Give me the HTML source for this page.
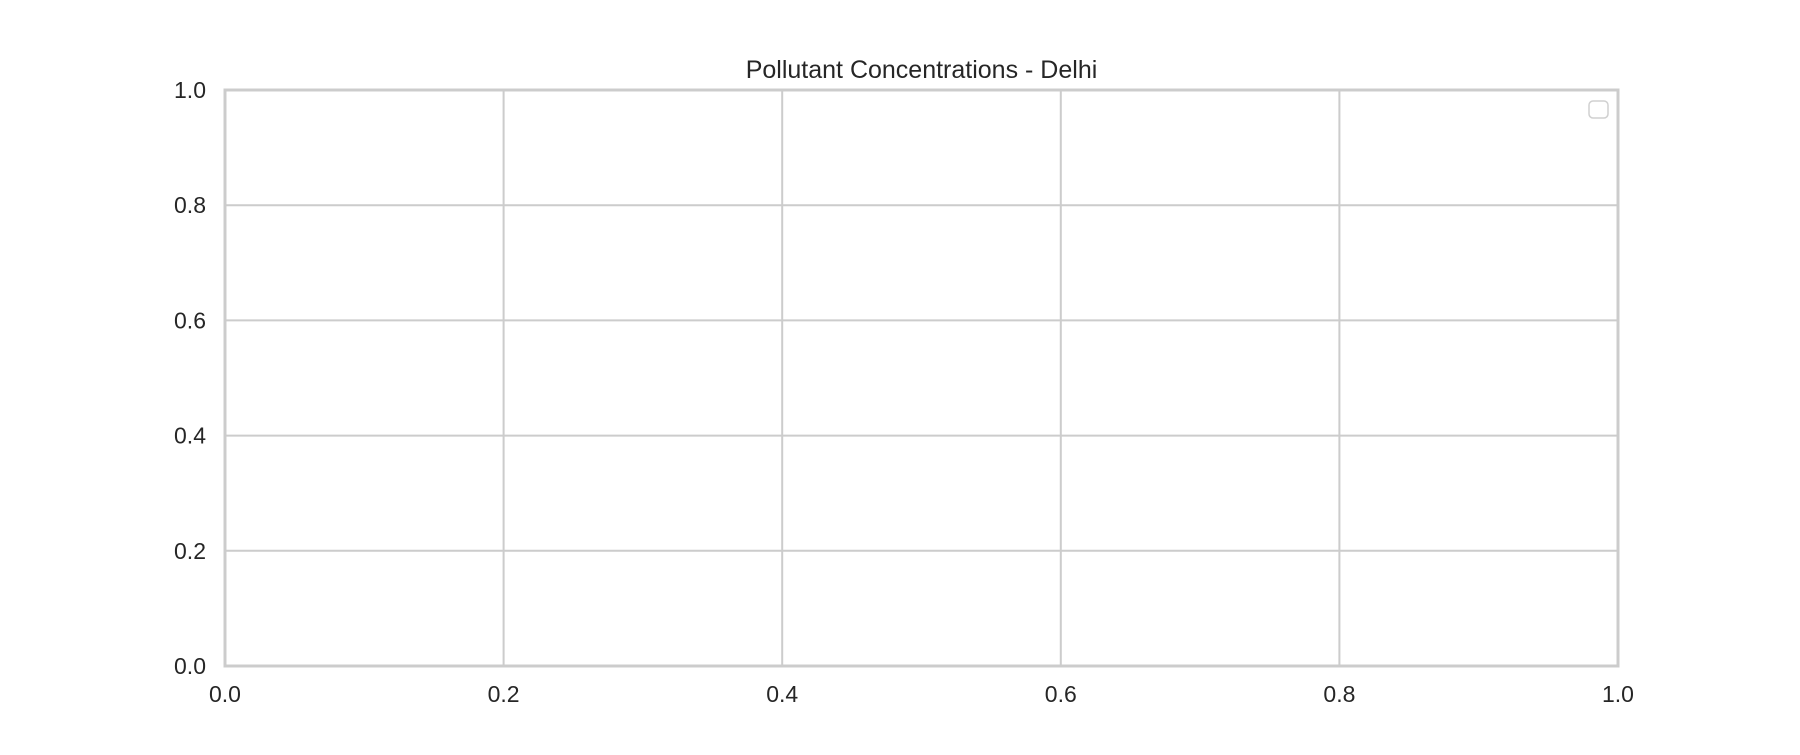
<!DOCTYPE html>
<html><head><meta charset="utf-8"><style>
body{margin:0;background:#fff;font-family:"Liberation Sans",sans-serif}
svg text{font-family:"Liberation Sans",sans-serif;fill:#262626}
</style></head><body>
<svg id="c" width="1800" height="750" xmlns="http://www.w3.org/2000/svg"></svg>
<script>
const xTicks=[0,0.2,0.4,0.6,0.8,1.0];
const yTicks=[0,0.2,0.4,0.6,0.8,1.0];
const xLabels=["0.0","0.2","0.4","0.6","0.8","1.0"];
const yLabels=["0.0","0.2","0.4","0.6","0.8","1.0"];
const L=225,R=1618,T=90,B=666;
const sx=v=>L+v*(R-L), sy=v=>B-v*(B-T);
const svg=document.getElementById('c');const NS='http://www.w3.org/2000/svg';
function mk(t,a,p){const e=document.createElementNS(NS,t);for(const k in a)e.setAttribute(k,a[k]);(p||svg).appendChild(e);return e;}
const title=mk('text',{x:(L+R)/2,y:78,'text-anchor':'middle','font-size':25});
title.textContent='Pollutant Concentrations - Delhi';


xTicks.forEach((v,i)=>{
 const g=mk('line',{x1:sx(v),x2:sx(v),y1:T,y2:B,stroke:'#cccccc','stroke-width':2});
 
 
 const t=mk('text',{x:sx(v),y:B+36,'text-anchor':'middle','font-size':23});
 t.textContent=xLabels[i];
 
 
});
yTicks.forEach((v,i)=>{
 const g=mk('line',{x1:L,x2:R,y1:sy(v),y2:sy(v),stroke:'#cccccc','stroke-width':2});
 
 
 const t=mk('text',{x:L-19,y:sy(v)+8,'text-anchor':'end','font-size':23});
 t.textContent=yLabels[i];
 
 
});
const frame=mk('rect',{x:L,y:T,width:R-L,height:B-T,fill:'none',stroke:'#cccccc','stroke-width':3});


const leg=mk('rect',{x:1589,y:101,width:19,height:17,rx:4,fill:'#fff',stroke:'#d0d0d0','stroke-width':1.5});


</script>
</body></html>
